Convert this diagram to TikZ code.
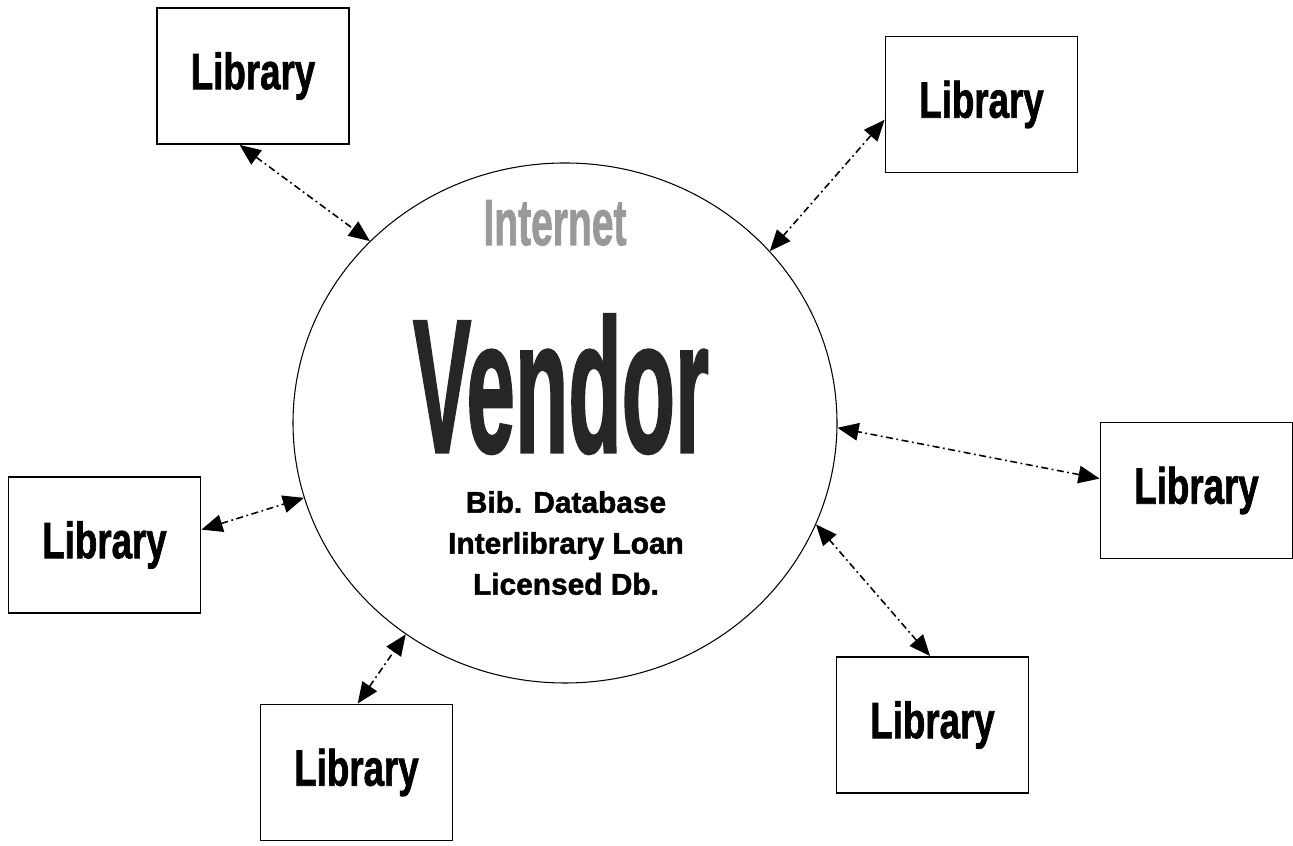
\documentclass[tikz,border=0pt]{standalone}
\usepackage{fontspec}
\setmainfont{Liberation Sans}[BoldFeatures={FakeBold=1.6}]
\usetikzlibrary{arrows.meta,shapes.geometric}

\newcommand{\narrow}[2]{\scalebox{#1}[1]{#2}}

\begin{document}
\begin{tikzpicture}[>={Triangle[length=12pt,width=10pt]},
  libbox/.style={draw, line width=1.1pt, minimum width=3.84cm, minimum height=2.72cm,
    font=\bfseries\fontsize{29}{30}\selectfont},
  link/.style={<->, line width=.9pt, dash pattern=on 4pt off 2pt on 1pt off 2pt}]
  \useasboundingbox (0,0) rectangle (25.86,16.92);
  \node (vendor) at (11.30,8.46) [ellipse, draw, line width=.6pt, minimum width=10.88cm,
    minimum height=10.40cm, inner sep=0] {};
  \node (internet) at (11.10,12.02) [anchor=base, text=black!40,
    font=\bfseries\fontsize{37}{40}\selectfont] {\narrow{.6}{Internet}};
  \node (name) at (11.22,7.88) [anchor=base, text=black!85,
    font=\bfseries\fontsize{108}{110}\selectfont] {\narrow{.46}{Vendor}};
  \node (services) at (11.32,6.06) [align=center, inner sep=0,
    font=\bfseries\fontsize{17}{23.3}\selectfont] {Bib. Database\\Interlibrary Loan\\Licensed Db.};
  \node (lib1) at (5.06,15.40) [libbox] {\narrow{.72}{Library}};
  \node (lib2) at (19.63,14.83) [libbox] {\narrow{.72}{Library}};
  \node (lib3) at (23.93,7.11) [libbox] {\narrow{.72}{Library}};
  \node (lib4) at (18.65,2.42) [libbox] {\narrow{.72}{Library}};
  \node (lib5) at (7.13,1.47) [libbox] {\narrow{.72}{Library}};
  \node (lib6) at (2.09,6.02) [libbox] {\narrow{.72}{Library}};
  \foreach \b/\e/\v in {1/259/137, 2/189/40, 3/173/359, 4/92/338, 5/89/233, 6/9/196}
  {
    \draw[link] (lib\b.\e) -- (vendor.\v);
  }
\end{tikzpicture}
\end{document}
